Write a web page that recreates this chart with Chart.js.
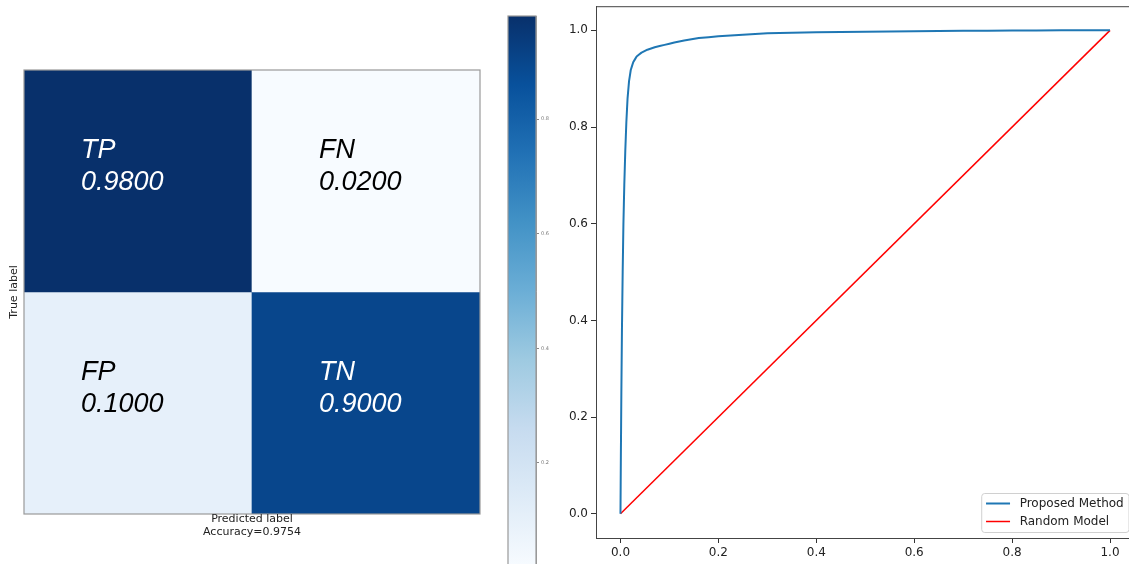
<!DOCTYPE html>
<html><head><meta charset="utf-8">
<script src="https://cdn.jsdelivr.net/npm/chart.js@4/dist/chart.umd.min.js"></script>
<style>
html,body{margin:0;padding:0;background:#fff;width:1129px;height:564px;overflow:hidden;position:relative;}
canvas{position:absolute;display:block;}
#cm{left:0;top:0;}
#cb{left:500px;top:0;}
#roc{left:540px;top:-4px;}
</style></head><body>
<canvas id="cm" width="500" height="564"></canvas>
<canvas id="cb" width="60" height="580"></canvas>
<canvas id="roc" width="600" height="568"></canvas>
<script>
// ---------- data ----------
const predictedCols = ['Positive', 'Negative'];
const cellLabels = [['TP', 'FN'], ['FP', 'TN']];
const cellValues = [[0.98, 0.02], [0.10, 0.90]];
const accuracy = 0.9754;
const colorbarTicks = [0.2, 0.4, 0.6, 0.8];

const fpr = [0, 0.0008, 0.0018, 0.003, 0.0045, 0.006, 0.0078, 0.0098, 0.012, 0.0145, 0.0175, 0.021, 0.026, 0.033, 0.043, 0.055, 0.07, 0.09, 0.11, 0.13, 0.16, 0.2, 0.25, 0.3, 0.4, 0.5, 0.6, 0.7, 0.8, 0.9, 1.0];
const tpr = [0, 0.12, 0.25, 0.38, 0.5, 0.6, 0.68, 0.75, 0.81, 0.86, 0.895, 0.918, 0.934, 0.946, 0.954, 0.96, 0.965, 0.97, 0.975, 0.979, 0.984, 0.988, 0.991, 0.994, 0.996, 0.997, 0.998, 0.999, 0.9995, 1.0, 1.0];
const randomX = [0, 1];
const randomY = [0, 1];
const rocTicks = [0, 0.2, 0.4, 0.6, 0.8, 1.0];

// ---------- colormap ----------
const bluesStops = ['#f7fbff','#deebf7','#c6dbef','#9ecae1','#6baed6','#4292c6','#2171b5','#08519c','#08306b'];
function hexRgb(h){return [parseInt(h.substr(1,2),16),parseInt(h.substr(3,2),16),parseInt(h.substr(5,2),16)];}
function blues(t){
  t = Math.max(0, Math.min(1, t));
  const n = bluesStops.length - 1;
  const p = t * n, i = Math.min(n - 1, Math.floor(p)), f = p - i;
  const a = hexRgb(bluesStops[i]), b = hexRgb(bluesStops[i+1]);
  return 'rgb(' + a.map((v,k)=>Math.round(v + (b[k]-v)*f)).join(',') + ')';
}
const allVals = cellValues.flat();
const vmin = Math.min(...allVals), vmax = Math.max(...allVals);
const norm = v => (v - vmin) / (vmax - vmin);

// ---------- confusion matrix ----------
const cellTextOffsetX = [-57, -47];
const cmTextPlugin = {
  id: 'cmText',
  afterDatasetsDraw(chart){
    const ctx = chart.ctx;
    ctx.save();
    ctx.font = 'italic 27px "Liberation Sans", Arial, sans-serif';
    ctx.textAlign = 'left';
    ctx.textBaseline = 'middle';
    cellValues.forEach((row, r) => {
      const meta = chart.getDatasetMeta(r);
      row.forEach((v, c) => {
        const el = meta.data[c];
        const cy = (el.y + el.base) / 2;
        const x = el.x + cellTextOffsetX[c];
        ctx.fillStyle = v > (vmax + vmin) / 2 ? '#ffffff' : '#000000';
        ctx.fillText(cellLabels[r][c], x, cy - 31);
        ctx.fillText(v.toFixed(4), x, cy + 1);
      });
    });
    ctx.restore();
  },
  afterDraw(chart){
    const ctx = chart.ctx, ca = chart.chartArea;
    ctx.save();
    ctx.strokeStyle = '#999';
    ctx.lineWidth = 1.2;
    ctx.strokeRect(ca.left, ca.top, ca.right - ca.left, ca.bottom - ca.top);
    ctx.fillStyle = '#222';
    ctx.font = '11px "DejaVu Sans", sans-serif';
    ctx.textAlign = 'center';
    ctx.textBaseline = 'middle';
    const cx = (ca.left + ca.right) / 2;
    ctx.fillText('Predicted label', cx, ca.bottom + 5);
    ctx.fillText('Accuracy=' + accuracy.toFixed(4), cx, ca.bottom + 18);
    ctx.translate(ca.left - 10, (ca.top + ca.bottom) / 2);
    ctx.rotate(-Math.PI / 2);
    ctx.fillText('True label', 0, 0);
    ctx.restore();
  }
};
new Chart(document.getElementById('cm'), {
  type: 'bar',
  data: {
    labels: predictedCols,
    datasets: cellValues.map((row, r) => ({
      label: 'row' + r,
      data: row.map(() => [cellValues.length - 1 - r, cellValues.length - r]),
      backgroundColor: row.map(v => blues(norm(v))),
      borderWidth: 0,
      barPercentage: 1,
      categoryPercentage: 1,
      grouped: false
    }))
  },
  options: {
    responsive: false, animation: false,
    layout: { padding: { left: 24, right: 20, top: 70, bottom: 50 } },
    plugins: { legend: { display: false }, tooltip: { enabled: false } },
    scales: {
      x: { display: false },
      y: { display: false, min: 0, max: cellValues.length }
    }
  },
  plugins: [cmTextPlugin]
});

// ---------- colorbar ----------
const cbFrame = {
  id: 'cbFrame',
  afterDraw(chart){
    const ctx = chart.ctx, ca = chart.chartArea;
    ctx.save();
    ctx.strokeStyle = '#999';
    ctx.lineWidth = 1.2;
    ctx.strokeRect(ca.left, ca.top, ca.right - ca.left, ca.bottom - ca.top);
    ctx.restore();
  }
};
new Chart(document.getElementById('cb'), {
  type: 'bar',
  data: {
    labels: [''],
    datasets: [{
      data: [[vmin, vmax]],
      backgroundColor: (c) => {
        const ca = c.chart.chartArea;
        if (!ca) return '#6baed6';
        const g = c.chart.ctx.createLinearGradient(0, ca.bottom, 0, ca.top);
        bluesStops.forEach((s, i) => g.addColorStop(i / (bluesStops.length - 1), s));
        return g;
      },
      borderWidth: 0, barPercentage: 1, categoryPercentage: 1
    }]
  },
  options: {
    responsive: false, animation: false,
    layout: { padding: { left: 8, right: 0, top: 16, bottom: 14 } },
    plugins: { legend: { display: false }, tooltip: { enabled: false } },
    scales: {
      x: { display: false },
      y: {
        position: 'right', min: vmin, max: vmax,
        afterBuildTicks: s => { s.ticks = colorbarTicks.map(v => ({ value: v })); },
        afterFit: s => { s.width = 24; },
        ticks: { font: { size: 5, family: '"DejaVu Sans", sans-serif' }, color: '#777', padding: 2, callback: v => v.toFixed(1) },
        grid: { drawOnChartArea: false, tickLength: 3, color: '#888' },
        border: { display: true, color: '#999' }
      }
    }
  },
  plugins: [cbFrame]
});

// ---------- ROC ----------
const rocExtras = {
  id: 'rocExtras',
  afterDraw(chart){
    const ctx = chart.ctx, ca = chart.chartArea;
    ctx.save();
    ctx.strokeStyle = '#444';
    ctx.lineWidth = 1;
    ctx.strokeRect(ca.left + 0.5, ca.top + 0.5, ca.right - ca.left, ca.bottom - ca.top);
    // legend (lower right, inside axes)
    const fs = 12;
    ctx.font = fs + 'px "DejaVu Sans", sans-serif';
    const ds = chart.data.datasets;
    const maxW = Math.max(...ds.map(d => ctx.measureText(d.label).width));
    const pad = 0.4 * fs, handle = 2 * fs, gap = 0.8 * fs, rowH = 18;
    const bw = pad + handle + gap + maxW + pad;
    const bh = 39;
    const right = ca.right - 6;
    const bx = right - bw, by = ca.bottom - 6 - bh;
    ctx.fillStyle = 'rgba(255,255,255,0.85)';
    ctx.strokeStyle = '#d0d0d0';
    ctx.beginPath();
    if (ctx.roundRect) ctx.roundRect(bx + 0.5, by + 0.5, bw, bh, 3); else ctx.rect(bx + 0.5, by + 0.5, bw, bh);
    ctx.fill(); ctx.stroke();
    ds.forEach((d, i) => {
      const y = by + 10.5 + i * rowH;
      ctx.strokeStyle = d.borderColor;
      ctx.lineWidth = d.borderWidth;
      ctx.beginPath();
      ctx.moveTo(bx + pad, y); ctx.lineTo(bx + pad + handle, y);
      ctx.stroke();
      ctx.fillStyle = '#222';
      ctx.textBaseline = 'middle';
      ctx.textAlign = 'left';
      ctx.fillText(d.label, bx + pad + handle + gap, y);
    });
    ctx.restore();
  }
};
const tickFont = { family: '"DejaVu Sans", sans-serif', size: 12 };
new Chart(document.getElementById('roc'), {
  type: 'scatter',
  data: {
    datasets: [
      { label: 'Proposed Method', data: fpr.map((x, i) => ({ x, y: tpr[i] })), showLine: true, borderColor: '#1f77b4', backgroundColor: '#1f77b4', borderWidth: 2, pointRadius: 0, tension: 0.001, borderJoinStyle: 'round' },
      { label: 'Random Model', data: randomX.map((x, i) => ({ x, y: randomY[i] })), showLine: true, borderColor: '#ff0000', backgroundColor: '#ff0000', borderWidth: 1.5, pointRadius: 0, tension: 0 }
    ]
  },
  options: {
    responsive: false, animation: false,
    layout: { padding: { left: 0, right: 5.5, top: 6, bottom: 0 } },
    plugins: { legend: { display: false }, tooltip: { enabled: false } },
    scales: {
      x: {
        type: 'linear', min: -0.05, max: 1.05,
        afterBuildTicks: s => { s.ticks = rocTicks.map(v => ({ value: v })); },
        afterFit: s => { s.height = 26; },
        ticks: { font: tickFont, color: '#222', padding: 3, maxRotation: 0, callback: v => v.toFixed(1) },
        grid: { drawOnChartArea: false, tickLength: 5, color: '#333' },
        border: { display: true, color: '#444' }
      },
      y: {
        type: 'linear', min: -0.05, max: 1.05,
        afterBuildTicks: s => { s.ticks = rocTicks.map(v => ({ value: v })); },
        afterFit: s => { s.width = 56; },
        ticks: { font: tickFont, color: '#222', padding: 3, callback: v => v.toFixed(1) },
        grid: { drawOnChartArea: false, tickLength: 5, color: '#333' },
        border: { display: true, color: '#444' }
      }
    }
  },
  plugins: [rocExtras]
});
</script>
</body></html>
